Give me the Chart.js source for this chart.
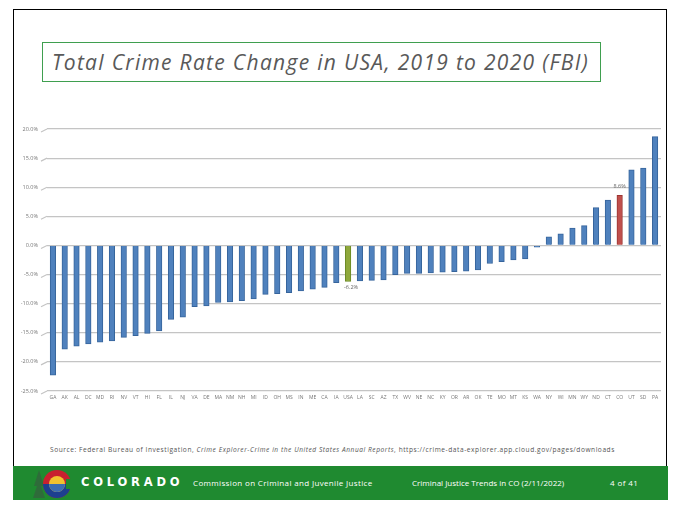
<!DOCTYPE html>
<html>
<head>
<meta charset="utf-8">
<script src="https://cdn.jsdelivr.net/npm/chart.js@4.4.1/dist/chart.umd.min.js"></script>
<style>
  html, body { margin: 0; padding: 0; background: #fff; }
  body { width: 677px; height: 508px; position: relative; overflow: hidden; font-family: "Open Sans", sans-serif; }
  #frame { position: absolute; left: 13px; top: 9px; width: 654px; height: 491px; border: 1px solid #000; border-bottom: none; box-sizing: border-box; }
  #title { position: absolute; left: 42px; top: 42px; width: 559px; height: 40px; border: 1px solid #3f9f4f; box-sizing: border-box;
           font-style: italic; font-size: 21px; letter-spacing: 1.3px; color: #595959; line-height: 38px; padding-left: 9px; white-space: nowrap; }
  #chartBox { position: absolute; left: 14px; top: 115px; width: 650px; height: 290px; }
  #source { position: absolute; left: 50px; top: 445px; font-size: 6.6px; letter-spacing: 0.55px; color: #555; white-space: nowrap; }
  #footer { position: absolute; left: 13px; top: 466px; width: 655px; height: 34px; background: #1f8a30; color: #fff; }
  #footer span { position: absolute; white-space: nowrap; }
  .brand { left: 68px; top: 9px; font-weight: bold; font-size: 11.5px; letter-spacing: 3.8px; font-family: "DejaVu Sans", sans-serif; }
  .f1 { left: 180px; top: 11px; font-size: 8px; letter-spacing: 0.35px; }
  .f2 { left: 399px; top: 11px; font-size: 8px; }
  .f3 { left: 597px; top: 11px; font-size: 8px; letter-spacing: 0.4px; }
  #logo { position: absolute; left: 20px; top: 0px; }
</style>
</head>
<body>
<div id="frame"></div>
<div id="title">Total Crime Rate Change in USA, 2019 to 2020 (FBI)</div>
<div id="chartBox"><canvas id="crimeChart"></canvas></div>
<div id="source">Source: Federal Bureau of Investigation, <i>Crime Explorer-Crime in the United States Annual Reports</i>, https://crime-data-explorer.app.cloud.gov/pages/downloads</div>
<div id="footer">
  <svg id="logo" width="46" height="34" viewBox="0 0 46 34">
    <polygon points="6,4 1,20 4,20 0,32 12,32 8,20 11,20" fill="#2f6b3a"/>
    <circle cx="24" cy="18" r="14" fill="#c8202f"/>
    <path d="M10,18 A14,14 0 0 0 38,18 Z" fill="#1d3f8f"/>
    <circle cx="24" cy="18" r="8" fill="#f2c230"/>
    <path d="M16,18 A8,8 0 0 0 32,18 Z" fill="#3b6db3"/>
    <rect x="33" y="13" width="13" height="10" fill="#1f8a30"/>
  </svg>
  <span class="brand">COLORADO</span>
  <span class="f1">Commission on Criminal and Juvenile Justice</span>
  <span class="f2">Criminal Justice Trends in CO (2/11/2022)</span>
  <span class="f3">4 of 41</span>
</div>
<script>
let states = ["GA", "AK", "AL", "DC", "MD", "RI", "NV", "VT", "HI", "FL", "IL", "NJ", "VA", "DE", "MA", "NM", "NH", "MI", "ID", "OH", "MS", "IN", "ME", "CA", "IA", "USA",
              "LA", "SC", "AZ", "TX", "WV", "NE", "NC", "KY", "OR", "AR", "OK", "TE", "MO", "MT", "KS", "WA", "NY", "WI", "MN", "WY", "ND", "CT", "CO", "UT", "SD", "PA"];
let rateChange = [-22.3, -17.8, -17.3, -16.9, -16.6, -16.4, -15.8, -15.5, -15.1, -14.7, -12.7, -12.3, -10.5, -10.4, -9.8, -9.7, -9.5, -9.2, -8.4, -8.3, -8.1, -7.8, -7.5, -7.2, -6.4, -6.2,
                  -6.1, -6.0, -5.9, -5.0, -4.8, -4.8, -4.7, -4.6, -4.5, -4.4, -4.2, -3.1, -2.8, -2.5, -2.3, -0.3, 1.5, 2.0, 3.0, 3.4, 6.5, 7.8, 8.6, 13.0, 13.3, 18.7];
let yTicks = [20, 15, 10, 5, 0, -5, -10, -15, -20, -25];
let labelled = ["USA", "CO"];

let barColors = states.map(s => s === "USA" ? "#8fa83c" : (s === "CO" ? "#c0504d" : "#4f81bd"));
let barBorders = states.map(s => s === "USA" ? "#6b8a24" : (s === "CO" ? "#9c3431" : "#36649c"));

// slanted floor lines at the left of each gridline (3D look)
const slantGrid = {
    id: 'slantGrid',
    beforeDatasetsDraw(chart) {
        let ctx = chart.ctx, y = chart.scales.y, left = chart.chartArea.left;
        ctx.save();
        ctx.strokeStyle = '#c4c4c4';
        ctx.lineWidth = 1.2;
        yTicks.forEach(v => {
            let py = y.getPixelForValue(v);
            ctx.beginPath();
            ctx.moveTo(left - 6, py + 3);
            ctx.lineTo(left, py);
            ctx.stroke();
        });
        ctx.restore();
    }
};

const valueLabels = {
    id: 'valueLabels',
    afterDatasetsDraw(chart) {
        let ctx = chart.ctx, meta = chart.getDatasetMeta(0);
        ctx.save();
        ctx.font = '5.5px "Open Sans", sans-serif';
        ctx.fillStyle = '#666';
        ctx.textAlign = 'center';
        labelled.forEach(s => {
            let i = states.indexOf(s), bar = meta.data[i], v = rateChange[i];
            let ty = v < 0 ? bar.y + 7 : bar.y - 7;
            ctx.fillText(v.toFixed(1) + '%', bar.x + (v < 0 ? 3 : 0), ty);
        });
        ctx.restore();
    }
};

let ctx = document.getElementById('crimeChart').getContext('2d');
new Chart(ctx, {
    type: 'bar',
    data: {
        labels: states,
        datasets: [{
            data: rateChange,
            backgroundColor: barColors,
            borderColor: barBorders,
            borderWidth: 1,
            barThickness: 5.5
        }]
    },
    options: {
        responsive: true,
        maintainAspectRatio: false,
        animation: false,
        layout: { padding: { top: 14, right: 3, left: 0, bottom: 0 } },
        plugins: { legend: { display: false }, tooltip: { enabled: false } },
        scales: {
            x: {
                grid: { display: false, drawTicks: false },
                border: { display: false },
                ticks: { font: { size: 5, family: 'Open Sans' }, color: '#777', padding: 4, autoSkip: false, maxRotation: 0 },
                afterFit(scale) { scale.height = 14; }
            },
            y: {
                min: -25,
                max: 20,
                afterBuildTicks(scale) { scale.ticks = yTicks.map(v => ({ value: v })); },
                grid: { color: '#c4c4c4', lineWidth: 1.2, drawTicks: false },
                border: { display: false },
                ticks: {
                    font: { size: 5.5, family: 'Open Sans' }, color: '#777', padding: 9,
                    callback: v => v.toFixed(1) + '%'
                },
                afterFit(scale) { scale.width = 33; }
            }
        }
    },
    plugins: [slantGrid, valueLabels]
});
</script>
</body>
</html>
